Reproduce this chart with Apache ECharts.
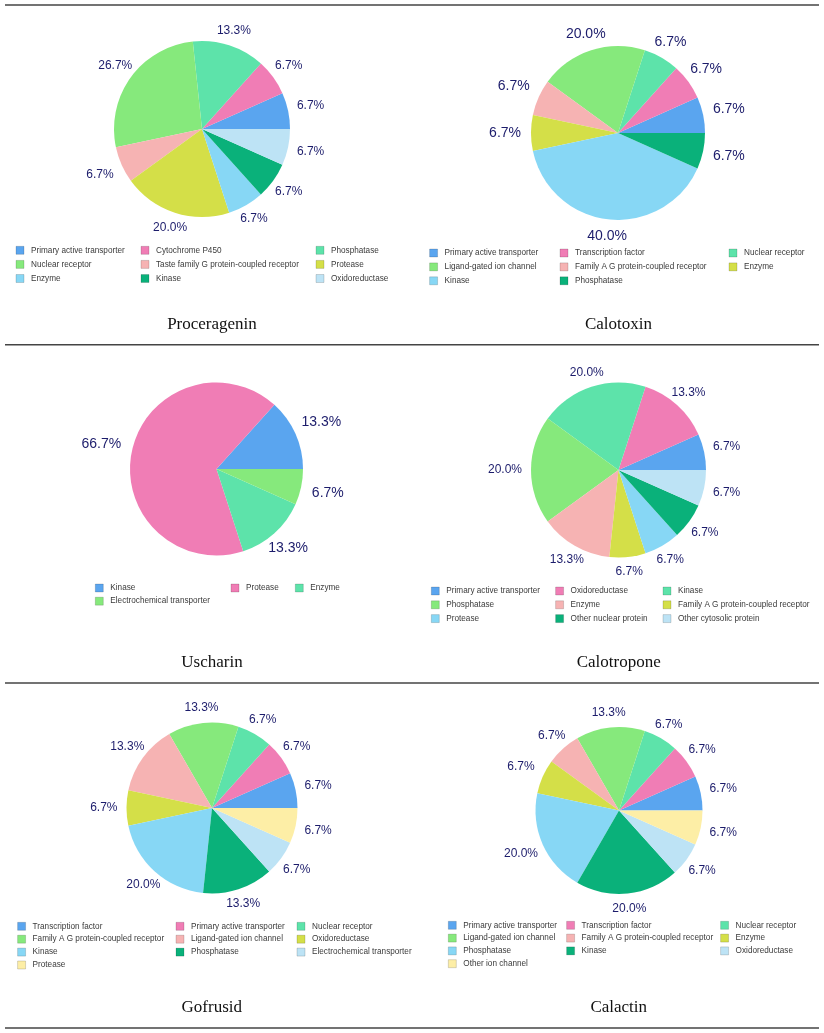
<!DOCTYPE html>
<html>
<head>
<meta charset="utf-8">
<script src="https://cdn.jsdelivr.net/npm/echarts/dist/echarts.min.js"></script>
<style>html,body{margin:0;padding:0;background:#fff}#c{width:824px;height:1033px}</style>
</head>
<body>
<div id="c"></div>
<script>
// ---------- DATA ----------
const chartTitles = ['Proceragenin', 'Calotoxin', 'Uscharin', 'Calotropone', 'Gofrusid', 'Calactin'];

const proceragéninCats = ['Primary active transporter', 'Cytochrome P450', 'Phosphatase', 'Nuclear receptor', 'Taste family G protein-coupled receptor', 'Protease', 'Enzyme', 'Kinase', 'Oxidoreductase'];
const proceragéninVals = [1, 1, 2, 4, 1, 3, 1, 1, 1];

const calotoxinCats = ['Primary active transporter', 'Transcription factor', 'Nuclear receptor', 'Ligand-gated ion channel', 'Family A G protein-coupled receptor', 'Enzyme', 'Kinase', 'Phosphatase'];
const calotoxinVals = [1, 1, 1, 3, 1, 1, 6, 1];

const uscharinCats = ['Kinase', 'Protease', 'Enzyme', 'Electrochemical transporter'];
const uscharinVals = [2, 10, 2, 1];

const calotroponeCats = ['Primary active transporter', 'Oxidoreductase', 'Kinase', 'Phosphatase', 'Enzyme', 'Family A G protein-coupled receptor', 'Protease', 'Other nuclear protein', 'Other cytosolic protein'];
const calotroponeVals = [1, 2, 3, 3, 2, 1, 1, 1, 1];

const gofrusidCats = ['Transcription factor', 'Primary active transporter', 'Nuclear receptor', 'Family A G protein-coupled receptor', 'Ligand-gated ion channel', 'Oxidoreductase', 'Kinase', 'Phosphatase', 'Electrochemical transporter', 'Protease'];
const gofrusidVals = [1, 1, 1, 2, 2, 1, 3, 2, 1, 1];

const calactinCats = ['Primary active transporter', 'Transcription factor', 'Nuclear receptor', 'Ligand-gated ion channel', 'Family A G protein-coupled receptor', 'Enzyme', 'Phosphatase', 'Kinase', 'Oxidoreductase', 'Other ion channel'];
const calactinVals = [1, 1, 1, 2, 1, 1, 3, 3, 1, 1];

const allCats = [proceragéninCats, calotoxinCats, uscharinCats, calotroponeCats, gofrusidCats, calactinCats];
const allVals = [proceragéninVals, calotoxinVals, uscharinVals, calotroponeVals, gofrusidVals, calactinVals];

// ---------- STYLE / LAYOUT ----------
const palette = ['#5aa5ef', '#f07db5', '#5de3aa', '#86e97c', '#f6b3b3', '#d4df48', '#87d7f5', '#0ab17a', '#bde3f5', '#fdeea6'];
const panels = [
  { c: [202, 129], r: 88, fs: 12, L: 9, legX: [15.7, 140.7, 315.7], legY: 246, pitch: 13.5, tx: 212, ty: 325 },
  { c: [618, 133], r: 87, fs: 14, L: 10, legX: [429.3, 559.7, 728.7], legY: 248.7, pitch: 13.3, tx: 618.5, ty: 325 },
  { c: [216.5, 469], r: 86.5, fs: 14, L: 11, legX: [95, 230.7, 295], legY: 583.7, pitch: 12.6, tx: 212, ty: 662.5 },
  { c: [618.5, 470], r: 87.5, fs: 12, L: 9, legX: [431, 555.3, 662.7], legY: 586.7, pitch: 13.2, tx: 618.7, ty: 662.5 },
  { c: [212, 808], r: 85.5, fs: 12, L: 9, legX: [17.3, 175.7, 296.7], legY: 922, pitch: 12.3, tx: 211.8, ty: 1007.5 },
  { c: [619, 810.5], r: 83.5, fs: 12, L: 9, legX: [448, 566.3, 720.3], legY: 921, pitch: 12.2, tx: 618.7, ty: 1007.5 }
];
const ruleY = [5, 344.7, 683, 1028];

const totals = allVals.map(v => v.reduce((a, b) => a + b, 0));

function labelLayoutFn(params) {
  const pts = params.labelLinePoints;
  if (!pts || pts.length < 2) return {};
  const dx = pts[1][0] - pts[0][0], dy = pts[1][1] - pts[0][1];
  const len = Math.hypot(dx, dy) || 1;
  const ux = dx / len, uy = dy / len;
  const hw = params.labelRect.width / 2, hh = params.labelRect.height / 2;
  const ex = Math.abs(ux) > 1e-6 ? hw / Math.abs(ux) : Infinity;
  const ey = Math.abs(uy) > 1e-6 ? hh / Math.abs(uy) : Infinity;
  const ext = Math.min(ex, ey);
  return { x: pts[1][0] + ux * ext, y: pts[1][1] + uy * ext, align: 'center', verticalAlign: 'middle' };
}

const series = [];
const legends = [];
const graphics = [];

allCats.forEach((cats, k) => {
  const p = panels[k];
  series.push({
    type: 'pie',
    center: p.c,
    radius: p.r,
    startAngle: 0,
    clockwise: false,
    avoidLabelOverlap: false,
    animation: false,
    emphasis: { disabled: true },
    itemStyle: { borderWidth: 0 },
    label: {
      show: true,
      position: 'outside',
      color: '#1c1c6b',
      fontSize: p.fs,
      fontFamily: 'Liberation Sans, Arial, sans-serif',
      formatter: (d) => (d.value / totals[k] * 100).toFixed(1) + '%'
    },
    labelLine: { show: true, length: p.L, length2: 0, lineStyle: { opacity: 0, width: 0 } },
    labelLayout: labelLayoutFn,
    data: cats.map((c, i) => ({ name: k + '|' + c, value: allVals[k][i], itemStyle: { color: palette[i] } }))
  });
  for (let col = 0; col < 3; col++) {
    const names = cats.map((c, i) => ({ c, i })).filter(o => o.i % 3 === col).map(o => k + '|' + o.c);
    if (!names.length) continue;
    legends.push({
      orient: 'vertical',
      left: p.legX[col],
      top: p.legY,
      padding: 0,
      itemWidth: 8,
      itemHeight: 8,
      itemGap: p.pitch - 8,
      icon: 'rect',
      selectedMode: false,
      itemStyle: { borderColor: 'rgba(0,0,0,0.25)', borderWidth: 0.6 },
      textStyle: { fontSize: 8.2, lineHeight: 8, color: '#3a3a3a', fontFamily: 'Liberation Sans, Arial, sans-serif', padding: [0, 0, 0, 2] },
      formatter: (n) => n.split('|')[1],
      data: names
    });
  }
  graphics.push({
    type: 'text',
    x: p.tx,
    y: p.ty,
    style: {
      text: chartTitles[k],
      fontSize: 17,
      fontFamily: 'Liberation Serif, Times New Roman, serif',
      fill: '#111',
      align: 'center',
      verticalAlign: 'middle'
    }
  });
});

ruleY.forEach(y => {
  graphics.push({
    type: 'line',
    shape: { x1: 5, y1: y, x2: 819, y2: y },
    style: { stroke: '#444', lineWidth: 1.6 }
  });
});

const chart = echarts.init(document.getElementById('c'), null, { renderer: 'canvas' });
chart.setOption({
  backgroundColor: '#fff',
  animation: false,
  tooltip: { show: false },
  legend: legends,
  series: series,
  graphic: graphics
});
</script>
</body>
</html>
